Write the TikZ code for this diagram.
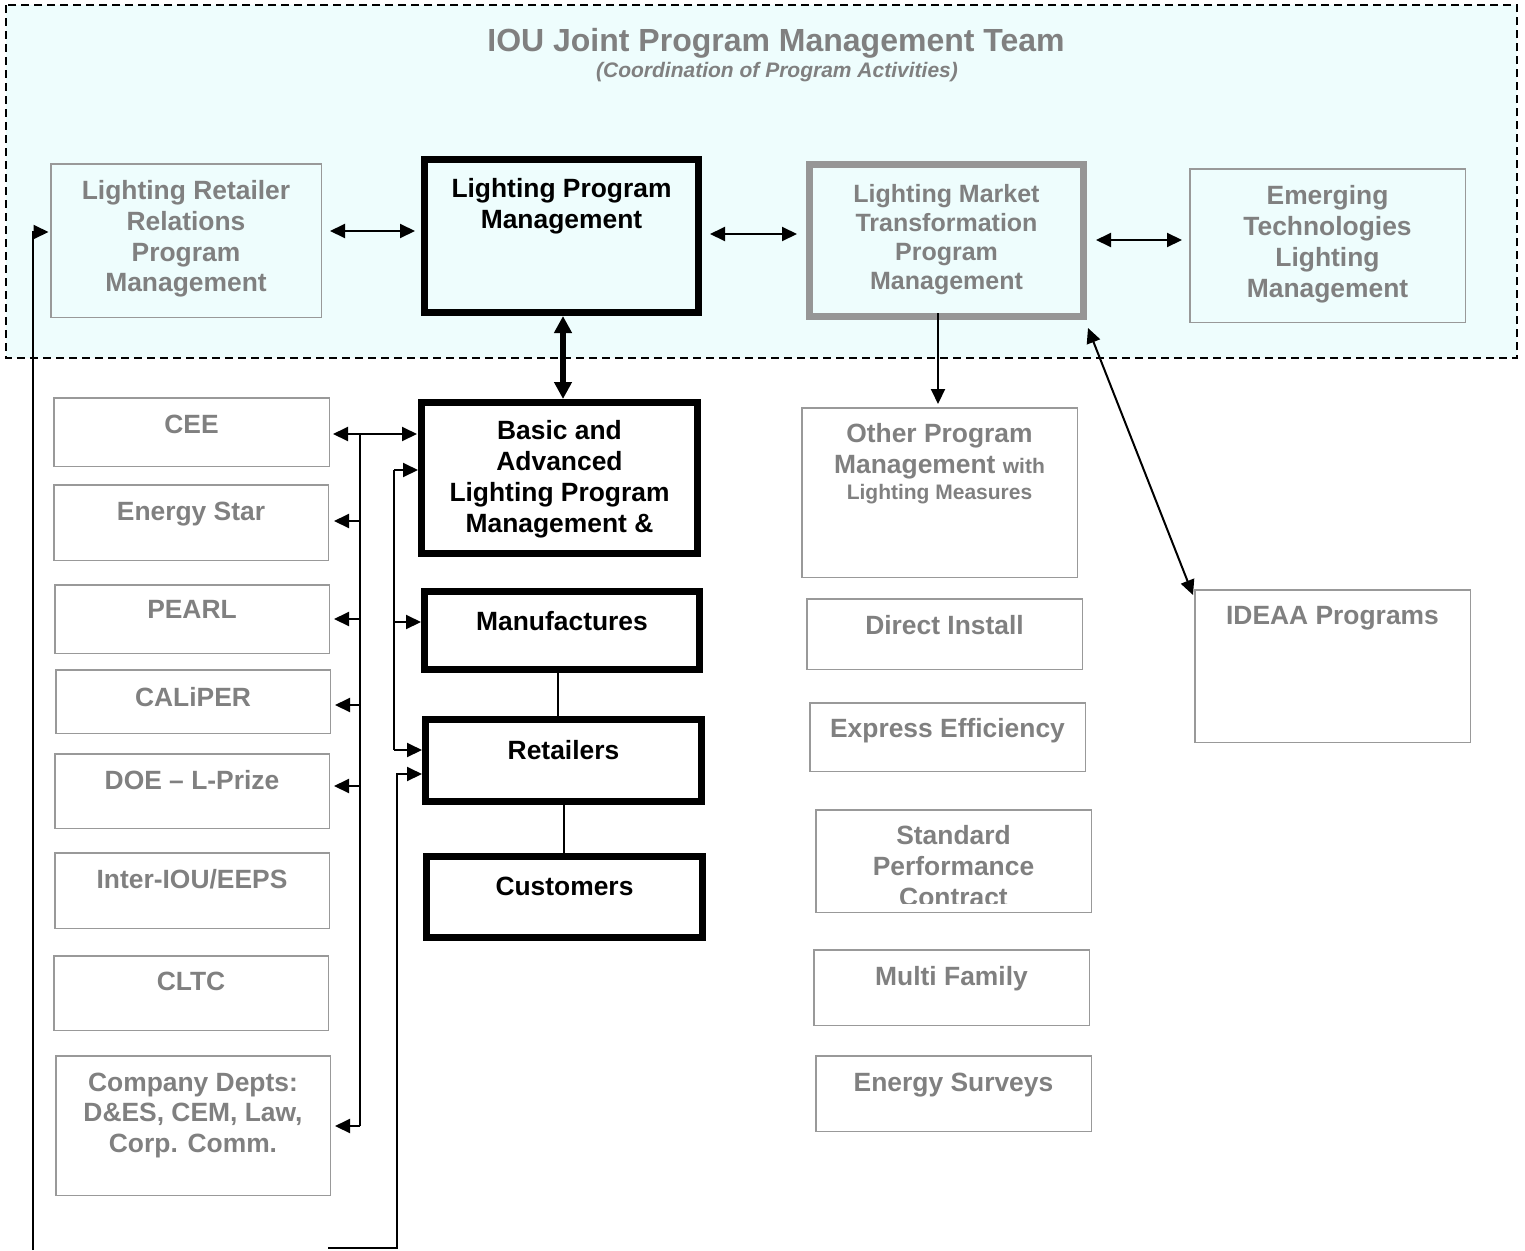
\documentclass[tikz,border=0pt]{standalone}
\usepackage{fontspec}
\setmainfont{Liberation Sans}
\usetikzlibrary{arrows.meta}
\definecolor{tgray}{RGB}{128,128,128}
\definecolor{bgray}{RGB}{153,153,153}
\definecolor{lmtgray}{RGB}{150,150,150}
\definecolor{cyanbg}{RGB}{238,253,253}
\begin{document}
\begin{tikzpicture}[x=1pt,y=-1pt,
 thinbox/.style={draw=bgray, line width=1.5pt, rectangle, inner sep=0pt, anchor=north west},
 thickbox/.style={draw=black, line width=7pt, rectangle, inner sep=0pt, anchor=north west},
 lmtbox/.style={draw=lmtgray, line width=7pt, rectangle, inner sep=0pt, anchor=north west},
 gtxt/.style={text=tgray, font=\bfseries\fontsize{26.4}{30.7}\selectfont, align=center, inner sep=0pt, anchor=north},
 btxt/.style={text=black, font=\bfseries\fontsize{26.4}{31}\selectfont, align=center, inner sep=0pt, anchor=north},
 conn/.style={draw=black, line width=2pt, -{Triangle[length=15pt,width=14pt]}},
 biconn/.style={draw=black, line width=2pt, {Triangle[length=15pt,width=14pt]}-{Triangle[length=15pt,width=14pt]}},
 plain/.style={draw=black, line width=2pt},
 thickconn/.style={draw=black, line width=5.5pt, {Triangle[length=17pt,width=17pt]}-{Triangle[length=17pt,width=17pt]}},
]
\useasboundingbox (0,0) rectangle (1525,1250);
\fill[white] (0,0) rectangle (1525,1250);
% joint team frame
\draw[fill=cyanbg, draw=black, line width=1.5pt, dash pattern=on 8pt off 5pt] (6,5) rectangle (1517,358);
\node[text=tgray, font=\bfseries\fontsize{32}{36}\selectfont, anchor=base, inner sep=0pt] (title) at (776,51.5) {IOU Joint Program Management Team};
\node[text=tgray, font=\bfseries\itshape\fontsize{21}{25}\selectfont, anchor=base, inner sep=0pt] (subtitle) at (777,77.5) {(Coordination of Program Activities)};

% top row boxes
\node[thinbox, minimum width=270.5pt, minimum height=153.5pt] (lrr) at (50,163) {};
\node[thickbox, minimum width=274pt, minimum height=153pt] (lpm) at (421,156) {};
\node[lmtbox, minimum width=274pt, minimum height=152pt] (lmt) at (806,161) {};
\node[thinbox, minimum width=275.5pt, minimum height=153.5pt] (et) at (1189,168) {};

% left column boxes
\node[thinbox, minimum width=275.5pt, minimum height=68.5pt] (cee) at (53,397) {};
\node[thinbox, minimum width=274.5pt, minimum height=75.5pt] (es) at (53,484) {};
\node[thinbox, minimum width=274.5pt, minimum height=68.5pt] (pearl) at (54,584) {};
\node[thinbox, minimum width=274.5pt, minimum height=63.5pt] (cal) at (55,669) {};
\node[thinbox, minimum width=274.5pt, minimum height=74.5pt] (doe) at (54,753) {};
\node[thinbox, minimum width=274.5pt, minimum height=75.5pt] (inter) at (54,852) {};
\node[thinbox, minimum width=274.5pt, minimum height=74.5pt] (cltc) at (53,955) {};
\node[thinbox, minimum width=274.5pt, minimum height=139.5pt] (comp) at (55,1055) {};

% middle column boxes
\node[thickbox, minimum width=276pt, minimum height=151pt] (basic) at (418,399) {};
\node[thickbox, minimum width=275pt, minimum height=78pt] (manu) at (421,588) {};
\node[thickbox, minimum width=276pt, minimum height=82pt] (ret) at (422,716) {};
\node[thickbox, minimum width=276pt, minimum height=81pt] (cust) at (423,853) {};

% right column boxes
\node[thinbox, minimum width=275.5pt, minimum height=169.5pt] (other) at (801,407) {};
\node[thinbox, minimum width=275.5pt, minimum height=70.5pt] (di) at (806,598) {};
\node[thinbox, minimum width=275.5pt, minimum height=68.5pt] (ee) at (809,702) {};
\node[thinbox, minimum width=275.5pt, minimum height=102.5pt] (spc) at (815,809) {};
\node[thinbox, minimum width=275.5pt, minimum height=75.5pt] (mf) at (813,949) {};
\node[thinbox, minimum width=275.5pt, minimum height=75.5pt] (esv) at (815,1055) {};
\node[thinbox, minimum width=275.5pt, minimum height=152.5pt] (ideaa) at (1194,589) {};

% texts
\node[gtxt] (lrrt) at (186,180.5) {Lighting Retailer\\Relations\\Program\\Management};
\node[btxt] (lpmt) at (561.5,178.5) {Lighting Program\\Management};
\node[gtxt, font=\bfseries\fontsize{25}{29}\selectfont] (lmtt) at (946.5,184) {Lighting Market\\Transformation\\Program\\Management};
\node[gtxt, font=\bfseries\fontsize{26.4}{31}\selectfont] (ett) at (1327.5,185.5) {Emerging\\Technologies\\Lighting\\Management};

\node[gtxt] (ceet) at (191.5,414.5) {CEE};
\node[gtxt] (est) at (191,501.5) {Energy Star};
\node[gtxt] (pearlt) at (192,600.5) {PEARL};
\node[gtxt] (calt) at (193,687.5) {CALiPER};
\node[gtxt] (doet) at (192,770.5) {DOE – L-Prize};
\node[gtxt] (intert) at (192,869.5) {Inter-IOU/EEPS};
\node[gtxt] (cltct) at (191,971.5) {CLTC};
\node[gtxt, font=\bfseries\fontsize{26.4}{30.5}\selectfont] (compt) at (193,1072.5) {Company Depts:\\D\&ES, CEM, Law,\\Corp. Comm.};

\node[btxt] (basict) at (559.5,420.5) {Basic and\\Advanced\\Lighting Program\\Management \&};
\node[btxt] (manut) at (562,611.5) {Manufactures};
\node[btxt] (rett) at (563.5,740.5) {Retailers};
\node[btxt] (custt) at (564.5,876.5) {Customers};

\node[gtxt, font=\bfseries\fontsize{26.4}{31}\selectfont] (othert) at (939.5,423.5) {Other Program\\Management {\fontsize{21}{31}\selectfont with}};
\node[gtxt, font=\bfseries\fontsize{21}{25}\selectfont] (othert2) at (939.5,484.5) {Lighting Measures};
\node[gtxt] (dit) at (944.5,615.5) {Direct Install};
\node[gtxt] (eet) at (947.5,718.5) {Express Efficiency};
\begin{scope}
\clip (815,809) rectangle (1092,903);
\node[gtxt, font=\bfseries\fontsize{26.4}{31}\selectfont] (spct) at (953.5,825.5) {Standard\\Performance\\Contract};
\end{scope}
\node[gtxt] (mft) at (951.5,966.5) {Multi Family};
\node[gtxt] (esvt) at (953.5,1072.5) {Energy Surveys};
\node[gtxt] (ideaat) at (1332.5,606.5) {IDEAA Programs};

% top row connectors
\draw[biconn] ([shift={(8pt,9.5pt)}]lrr.east) -- ([shift={(-6pt,5pt)}]lpm.west);
\draw[biconn] ([shift={(8pt,2pt)}]lpm.east) -- ([shift={(-9pt,6.5pt)}]lmt.west);
\draw[biconn] ([shift={(9pt,0.5pt)}]lmt.east) -- ([shift={(-7pt,5.5pt)}]et.west);
\draw[thickconn] ([shift={(1.5pt,0pt)}]lpm.south) -- ([shift={(3.5pt,0pt)}]basic.north);
\draw[conn] ([shift={(-8.5pt,7pt)}]lmt.south) -- ([shift={(-1.5pt,3pt)}]other.north);
\draw[biconn] ([shift={(1pt,-8pt)}]lmt.south east) -- ([shift={(-1pt,-6pt)}]ideaa.north west);

% left trunk
\draw[biconn] ([shift={(3pt,-2pt)}]cee.east) -- ([shift={(-1pt,44pt)}]basic.west);
\coordinate (j1) at (360,434);
\coordinate (jes) at (360,521);
\coordinate (jpe) at (360,619);
\coordinate (jca) at (360,705);
\coordinate (jdo) at (360,786);
\coordinate (jco) at (360,1126);
\draw[plain] (j1) -- (jco);
\draw[conn] (jes) -- ([shift={(5pt,1.5pt)}]es.east);
\draw[conn] (jpe) -- ([shift={(4pt,0pt)}]pearl.east);
\draw[conn] (jca) -- ([shift={(4pt,-3.5pt)}]cal.east);
\draw[conn] (jdo) -- ([shift={(4pt,5pt)}]doe.east);
\draw[conn] (jco) -- ([shift={(4pt,-0.5pt)}]comp.east);

% second trunk
\coordinate (k1) at (394,470);
\coordinate (k2) at (394,622);
\coordinate (k3) at (394,750);
\draw[plain] (k1) -- (k3);
\draw[conn] (k1) -- (k1 -| basic.west);
\draw[conn] (k2) -- (k2 -| manu.west);
\draw[conn] (k3) -- (k3 -| ret.west);

% bottom loop into retailers
\coordinate (m1) at (328,1248);
\coordinate (m2) at (397,1248);
\coordinate (m3) at (397,774);
\draw[conn] (m1) -- (m2) -- (m3) -- (m3 -| ret.west);

% far left line into LRR
\coordinate (n1) at (33,1250);
\coordinate (n2) at (33,232);
\draw[conn, shorten >=1.5pt] (n1) -- (n2) -- (n2 -| lrr.west);

% chain lines
\coordinate (mr) at ([xshift=-4pt]manu.south);
\draw[plain] (mr) -- (mr |- ret.north);
\draw[plain] (ret.south) -- (ret.south |- cust.north);
\end{tikzpicture}
\end{document}
